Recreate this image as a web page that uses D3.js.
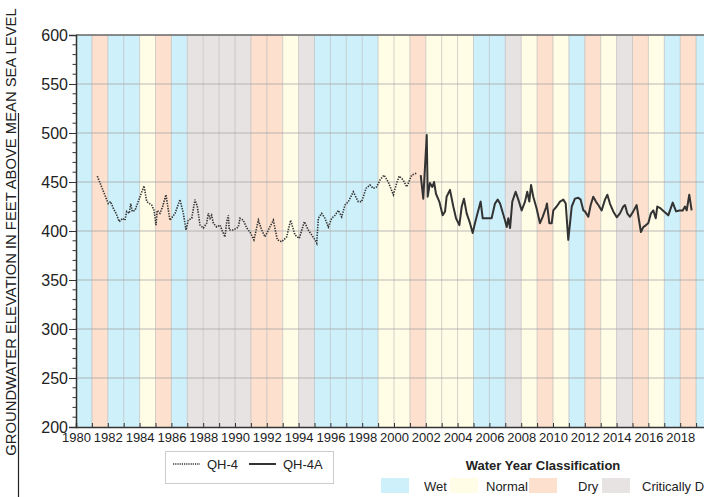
<!DOCTYPE html>
<html>
<head>
<meta charset="utf-8">
<script src="https://cdn.jsdelivr.net/npm/d3@7"></script>
<style>
  body { margin: 0; background: #fff; }
  text { font-family: "Liberation Sans", Arial, sans-serif; fill: #222; }
</style>
</head>
<body>
<div id="chart"></div>
<script>
// water year classification, one entry per year starting 1980
const classYears = d3.range(1980, 2020);
const classes = ["W","D","W","W","N","D","W","C","C","C","C","D","D","N","C","W","W","W","W","N",
                 "N","D","N","N","N","W","W","C","N","D","N","W","D","N","C","D","N","W","D","W"];
const classNames = ["Wet", "Normal", "Dry", "Critically Dry"];
const classKeys = ["W", "N", "D", "C"];

// QH-4 (dotted) - decimal year / elevation
const qh4Years = [1981.34,1982.03,1982.18,1982.35,1982.52,1982.72,1982.94,1983.08,1983.19,1983.35,1983.44,1983.54,1983.71,1983.98,
  1984.28,1984.45,1984.76,1984.91,1985.03,1985.11,1985.28,1985.45,1985.66,1985.81,1985.91,1986.23,1986.54,1986.75,1986.92,
  1987.06,1987.28,1987.48,1987.63,1987.80,1988.01,1988.22,1988.32,1988.43,1988.53,1988.64,1988.85,1989.06,1989.23,1989.37,
  1989.48,1989.58,1989.64,1989.89,1990.21,1990.31,1990.52,1990.74,1990.94,1991.19,1991.47,1991.68,1991.89,1992.16,1992.41,
  1992.66,1992.94,1993.25,1993.50,1993.77,1994.04,1994.36,1994.61,1994.82,1995.03,1995.14,1995.24,1995.45,1995.66,1995.87,
  1996.08,1996.29,1996.50,1996.71,1996.92,1997.13,1997.44,1997.75,1997.97,1998.24,1998.49,1998.70,1998.91,1999.12,1999.37,
  1999.64,1999.96,2000.17,2000.33,2000.58,2000.80,2001.11,2001.43];
const qh4Values = [456,428,430,423,418,409.5,413,411,420,418,428,420,421,433,
  446,430,426.5,421,406,421,418,425,437,421,411,418,432,418,401,
  411,413,432,425,406,403,408,418,413,416,408,404,406,399,394,
  409.5,416,401,401,404,413,411,403,399,391,411,401,394,403,411,
  391,389,394,411,396,392.5,409.5,401,396,391,387.5,413,418,413,404,
  413,416,421,414.5,426.5,430,440,430,430,443.5,447,443.5,445,452,457,
  450,437,449,456,452,445,457,459];

// QH-4A (solid)
const qh4aYears = [2001.68,2001.84,2002.06,2002.12,2002.26,2002.41,2002.52,2002.64,2002.85,2003.06,2003.21,2003.31,2003.52,
  2003.73,2003.90,2004.11,2004.26,2004.40,2004.57,2004.78,2004.95,2005.09,2005.30,2005.45,2005.58,2005.93,2006.14,2006.35,
  2006.52,2006.67,2006.98,2007.09,2007.19,2007.30,2007.44,2007.65,2007.82,2008.03,2008.24,2008.38,2008.51,2008.62,2008.76,
  2008.97,2009.18,2009.35,2009.56,2009.62,2009.77,2009.92,2010.02,2010.23,2010.44,2010.65,2010.80,2010.96,2011.18,2011.38,
  2011.59,2011.74,2011.91,2012.01,2012.22,2012.37,2012.53,2012.70,2012.85,2013.06,2013.27,2013.42,2013.58,2013.79,2014.01,
  2014.21,2014.42,2014.53,2014.67,2014.84,2015.05,2015.26,2015.41,2015.53,2015.68,2015.85,2015.99,2016.16,2016.31,2016.46,
  2016.56,2016.77,2016.98,2017.25,2017.53,2017.74,2017.95,2018.16,2018.30,2018.41,2018.57,2018.72];
const qh4aValues = [457,433,498,435,449,445,450,438,430,416,420,435,442,
  425,413,406,425,433,418,408,398,408,421,430,413,413,413,428,
  432,428,411,404,413,403,430,440,432,421,430,440,430,447,435,
  423,408,414.5,424,428,408,408,421,425,430,432,428,391,425,433,
  434,432,421,420,414.5,426.5,435,430,426.5,421,432,437,428,420,414,
  418,425,426.5,418,414.5,420,426.5,411,399,404,406,408,418,421,413,
  425,423,420,416,429,420,421,421,425,421,437,421];

const yTicks = d3.range(200, 601, 50);
const xLabelYears = d3.range(1980, 2019, 2);

const colors = { W: "#cdf0fb", N: "#fffde6", D: "#fde0cd", C: "#e8e3e3" };

const W = 704, H = 497;
const svg = d3.select("#chart").append("svg").attr("width", W).attr("height", H);

const x = d3.scaleLinear().domain([1980, 2020]).range([76, 712]);
const y = d3.scaleLinear().domain([200, 600]).range([427, 35]);

// year bands
svg.append("g").selectAll("rect")
  .data(classYears)
  .join("rect")
  .attr("x", d => x(d))
  .attr("y", y(600))
  .attr("width", d => x(d + 1) - x(d))
  .attr("height", y(200) - y(600))
  .attr("fill", (d, i) => colors[classes[i]]);

// grid
svg.append("g").selectAll("line")
  .data(d3.range(1981, 2020))
  .join("line")
  .attr("x1", d => x(d)).attr("x2", d => x(d))
  .attr("y1", y(600)).attr("y2", y(200))
  .attr("stroke", "#b5b5b5").attr("stroke-opacity", 0.6);

svg.append("g").selectAll("line")
  .data(d3.range(250, 600, 50))
  .join("line")
  .attr("x1", x(1980)).attr("x2", x(2020))
  .attr("y1", d => y(d)).attr("y2", d => y(d))
  .attr("stroke", "#a8a8a8").attr("stroke-opacity", 0.8);

// top border
svg.append("line")
  .attr("x1", x(1980)).attr("x2", x(2020))
  .attr("y1", y(600)).attr("y2", y(600))
  .attr("stroke", "#666").attr("stroke-width", 1.5);

// series
const line = d3.line().x(d => x(d[0])).y(d => y(d[1]));
const qh4 = qh4Years.map((d, i) => [d, qh4Values[i]]);
const qh4a = qh4aYears.map((d, i) => [d, qh4aValues[i]]);

svg.append("path").datum(qh4)
  .attr("d", line)
  .attr("fill", "none")
  .attr("stroke", "#333")
  .attr("stroke-width", 1.6)
  .attr("stroke-dasharray", "1.4,1.2");

svg.append("path").datum(qh4a)
  .attr("d", line)
  .attr("fill", "none")
  .attr("stroke", "#333")
  .attr("stroke-width", 2)
  .attr("stroke-linejoin", "round");

// axes
const yAxis = svg.append("g")
  .attr("transform", `translate(${x(1980)},0)`)
  .call(d3.axisLeft(y).tickValues(yTicks).tickSize(7).tickPadding(1));
yAxis.selectAll("text").style("font-size", "16px").attr("fill", "#222");

svg.append("g").selectAll("line")
  .data(d3.range(200, 601, 10).filter(d => d % 50 !== 0))
  .join("line")
  .attr("x1", x(1980) - 3.5).attr("x2", x(1980))
  .attr("y1", d => y(d)).attr("y2", d => y(d))
  .attr("stroke", "#333");

const xAxis = svg.append("g")
  .attr("transform", `translate(0,${y(200)})`)
  .call(d3.axisBottom(x)
    .tickValues(d3.range(1980, 2020))
    .tickSize(-4)
    .tickPadding(6)
    .tickFormat(d => xLabelYears.includes(d) ? String(d) : ""));
xAxis.selectAll("text").style("font-size", "13px").attr("fill", "#222");

[yAxis, xAxis].forEach(a => {
  a.select(".domain").attr("stroke", "#333").attr("stroke-width", 1.5);
  a.selectAll(".tick line").attr("stroke", "#333");
});

// y axis title
svg.append("text")
  .attr("transform", "translate(16,232) rotate(-90)")
  .attr("text-anchor", "middle")
  .style("font-size", "14.8px")
  .text("GROUNDWATER ELEVATION IN FEET ABOVE MEAN SEA LEVEL");

svg.append("line")
  .attr("x1", 18.5).attr("x2", 18.5).attr("y1", 113).attr("y2", 497)
  .attr("stroke", "#222").attr("stroke-width", 1.2);

// series legend
const lg = svg.append("g");
lg.append("rect").attr("x", 165.5).attr("y", 451.5).attr("width", 168).attr("height", 32)
  .attr("fill", "#fff").attr("stroke", "#ccc");
lg.append("line").attr("x1", 173).attr("x2", 200).attr("y1", 464).attr("y2", 464)
  .attr("stroke", "#333").attr("stroke-width", 1.4).attr("stroke-dasharray", "1.2,1");
lg.append("text").attr("x", 207).attr("y", 469).style("font-size", "13px").text("QH-4");
lg.append("line").attr("x1", 249).attr("x2", 276).attr("y1", 464).attr("y2", 464)
  .attr("stroke", "#333").attr("stroke-width", 2);
lg.append("text").attr("x", 283).attr("y", 469).style("font-size", "13px").text("QH-4A");

// classification legend
svg.append("text").attr("x", 543).attr("y", 470).attr("text-anchor", "middle")
  .style("font-size", "13px").style("font-weight", "bold").text("Water Year Classification");

const swatchX = [381, 450, 529, 602];
const labelX = [424, 486, 578, 642];
classKeys.forEach((k, i) => {
  svg.append("rect").attr("x", swatchX[i]).attr("y", 478).attr("width", 28).attr("height", 15)
    .attr("fill", colors[k]);
  svg.append("text").attr("x", labelX[i]).attr("y", 491).style("font-size", "13px").text(classNames[i]);
});
</script>
</body>
</html>
